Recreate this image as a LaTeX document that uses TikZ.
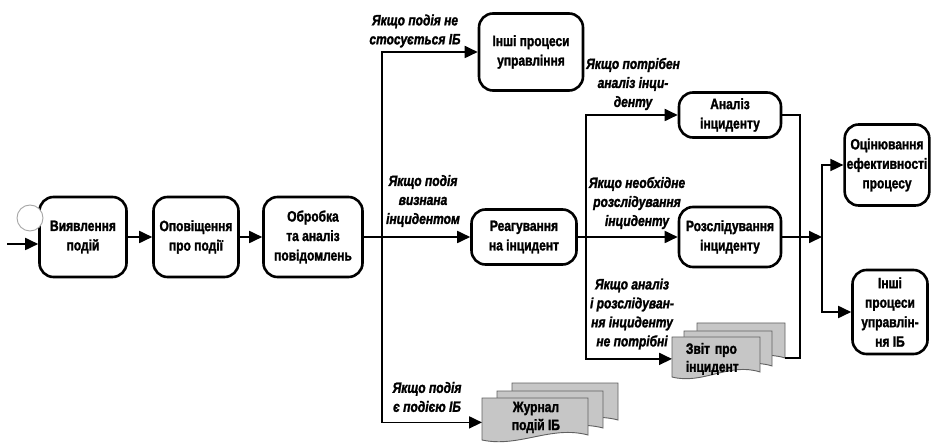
\documentclass[tikz,border=0pt]{standalone}
\usepackage{fontspec}
\setmainfont{Liberation Sans}[FakeStretch=0.8,
    BoldFeatures={FakeBold=1.6}, BoldItalicFeatures={FakeBold=1.6}]
\usepackage{tikz}
\usetikzlibrary{arrows.meta}
\tikzset{
    proc/.style={
           rectangle,
           rounded corners=14pt,
           draw=black, line width=2.6pt,
           inner sep=2pt,
           align=center,
           font=\bfseries\fontsize{15}{19.5}\selectfont,
           },
    cond/.style={
           align=center,
           inner sep=0pt,
           font=\bfseries\itshape\fontsize{15}{19}\selectfont,
           },
    sheet/.style={fill=gray!45, draw=gray!75!black, line width=0.9pt},
    doctext/.style={
           anchor=north west,
           inner sep=0pt,
           align=left,
           font=\bfseries\fontsize{15}{18}\selectfont,
           },
    startev/.style={circle, draw=gray!70, fill=white, line width=0.9pt, minimum size=26pt, inner sep=0pt},
}
% one sheet of a document stack: width #1, straight height #2
\newcommand{\sheetpath}[2]{-- ++(#1,0) -- ++(0,#2) .. controls +(-0.35*#1,-10) and +(0.35*#1,8) .. ++(-#1,5) -- cycle}

\begin{document}
\begin{tikzpicture}[x=1pt, y=-1pt, line width=1.8pt,
    >={Triangle[length=13pt, width=12pt]}]
    \useasboundingbox (0,0) rectangle (931,443);

    % main chain
    \node[proc, minimum width=87, minimum height=80, anchor=center] (detect) at (83,237)
        {Виявлення\\подій};
    \node[proc, minimum width=85, minimum height=80, anchor=center] (notify) at (196,237)
        {Оповіщення\\про події};
    \node[proc, minimum width=99, minimum height=80, anchor=center] (process) at (313,237)
        {Обробка\\та аналіз\\повідомлень};
    \node[startev] (start) at (30,218) {};
    \coordinate (in) at (7,244);

    % branches after processing
    \node[proc, minimum width=104, minimum height=77, anchor=center] (other) at (531,52)
        {Інші процеси\\управління};
    \node[proc, minimum width=105, minimum height=55, anchor=center] (react) at (524,237)
        {Реагування\\на інцидент};
    \node[proc, minimum width=102, minimum height=45, anchor=center] (analysis) at (730,115)
        {Аналіз\\інциденту};
    \node[proc, minimum width=102, minimum height=60, anchor=center] (invest) at (730,237)
        {Розслідування\\інциденту};
    \node[proc, minimum width=81, minimum height=81, anchor=center] (assess) at (887,165)
        {Оцінювання\\ефективності\\процесу};
    \node[proc, minimum width=75, minimum height=84, anchor=center] (otherib) at (890,312)
        {Інші\\процеси\\управлін-\\ня ІБ};

    % document stacks
    \coordinate (rep) at (672,337);
    \foreach \dx/\dy in {25/-14, 12/-6, 0/0}
        \filldraw[sheet] ([shift={(\dx,\dy)}]rep) \sheetpath{88}{35};
    \node[doctext, minimum width=88, minimum height=42, text width=62, inner xsep=13pt] (report) at (rep) {Звіт про\\інцидент};
    \coordinate (repback) at (785,358);

    \coordinate (jrn) at (482,398);
    \foreach \dx/\dy in {30/-15, 15/-7, 0/0}
        \filldraw[sheet] ([shift={(\dx,\dy)}]jrn) \sheetpath{106}{37};
    \node[doctext, align=center, minimum width=106, minimum height=37] (journal) at (jrn) {Журнал\\подій ІБ};

    % branch points
    \coordinate (fork1) at (382,237);
    \coordinate (fork2) at (586,237);
    \coordinate (fork3) at (822,237);
    \coordinate (merge) at (800,358);

    % conditions
    \node[cond] (c1) at (415,31) {Якщо подія не\\стосується ІБ};
    \node[cond] (c2) at (423,201) {Якщо подія\\визнана\\інцидентом};
    \node[cond] (c3) at (427,397) {Якщо подія\\є подією ІБ};
    \node[cond] (c4) at (633,84) {Якщо потрібен\\аналіз інци-\\денту};
    \node[cond] (c5) at (637,203) {Якщо необхідне\\розслідування\\інциденту};
    \node[cond] (c6) at (632,314) {Якщо аналіз\\і розслідуван-\\ня інциденту\\не потрібні};

    % connectors
    \draw[->] (in) -- (in -| detect.west);
    \draw[->] (detect) -- (notify);
    \draw[->] (notify) -- (process);
    \draw (process) -- (fork1);
    \draw[->] (fork1) |- (other.west);
    \draw[->] (fork1) -- (react);
    \draw[->] (fork1) |- ([yshift=-5pt]journal.west);
    \draw (react) -- (fork2);
    \draw[->] (fork2) |- (analysis.west);
    \draw[->] (fork2) -- (invest);
    \draw[->] (fork2) |- (report.west);
    \draw (analysis.east) -| (merge) -- (repback);
    \draw[->] (invest) -- (fork3);
    \draw[->] (fork3) |- (assess.west);
    \draw[->] (fork3) |- (otherib.west);
\end{tikzpicture}
\end{document}
